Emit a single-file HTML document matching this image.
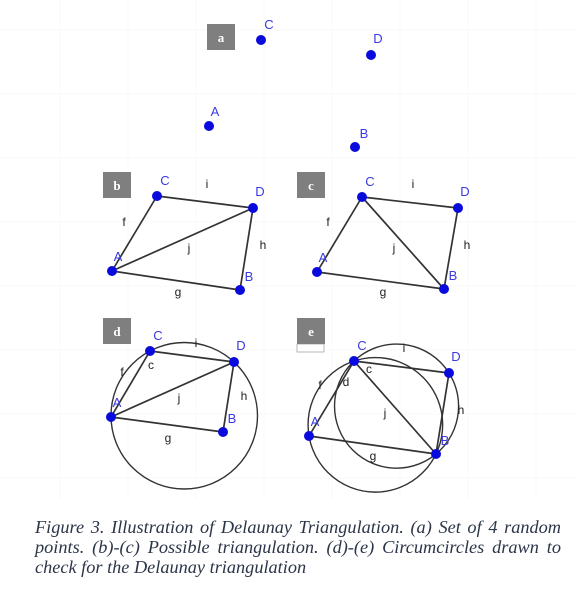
<!DOCTYPE html>
<html><head><meta charset="utf-8">
<style>
html,body{margin:0;padding:0;background:#fff;}
body{width:575px;height:594px;position:relative;overflow:hidden;}
svg{position:absolute;left:0;top:0;}
.cap{position:absolute;left:35px;width:526px;font-family:"Liberation Serif",serif;font-style:italic;font-size:18.3px;color:#2c3648;line-height:20px;text-align:justify;text-align-last:justify;white-space:nowrap;}
</style></head>
<body>
<svg id="fig" width="575" height="594"></svg>
<div class="cap" style="top:517px">Figure 3. Illustration of Delaunay Triangulation. (a) Set of 4 random</div>
<div class="cap" style="top:537px">points. (b)-(c) Possible triangulation. (d)-(e) Circumcircles drawn to</div>
<div class="cap" style="top:557px;text-align-last:left">check for the Delaunay triangulation</div>
<script>
// Point coordinates for each panel (A, B, C, D)
const panelA = {A:[209,126],B:[355,147],C:[261,40],D:[371,55]};
const panelB = {A:[112,271],B:[240,290],C:[157,196],D:[253,208]};
const panelC = {A:[317,272],B:[444,289],C:[362,197],D:[458,208]};
const panelD = {A:[111,417],B:[223,432],C:[150,351],D:[234,362]};
const panelE = {A:[309,436],B:[436,454],C:[354,361],D:[449,373]};
const edgesB = [["A","C"],["C","D"],["D","B"],["B","A"],["A","D"]];
const edgesC = [["A","C"],["C","D"],["D","B"],["B","A"],["C","B"]];
const circlesD = [["A","C","D"]];
const circlesE = [["A","C","B"],["C","D","B"]];

const NS="http://www.w3.org/2000/svg";
const svg=document.getElementById('fig');
function mk(tag,attrs,name,parent){
  const e=document.createElementNS(NS,tag);
  for(const k in attrs)e.setAttribute(k,attrs[k]);
  
  
  (parent||svg).appendChild(e);return e;
}
function txt(x,y,s,col,size,name,bold,serif){
  const t=mk('text',{x:x,y:y,fill:col,'font-size':size,'font-family':serif?'Liberation Serif, serif':'Liberation Sans, sans-serif','font-weight':bold?'bold':'normal','text-anchor':'middle'},name);
  t.textContent=s;return t;
}
function circum(a,b,c){
  const d=2*(a[0]*(b[1]-c[1])+b[0]*(c[1]-a[1])+c[0]*(a[1]-b[1]));
  const a2=a[0]*a[0]+a[1]*a[1],b2=b[0]*b[0]+b[1]*b[1],c2=c[0]*c[0]+c[1]*c[1];
  const ux=(a2*(b[1]-c[1])+b2*(c[1]-a[1])+c2*(a[1]-b[1]))/d;
  const uy=(a2*(c[0]-b[0])+b2*(a[0]-c[0])+c2*(b[0]-a[0]))/d;
  return [ux,uy,Math.hypot(a[0]-ux,a[1]-uy)];
}
function box(x,y,l,id){
  mk('rect',{x:x,y:y,width:28,height:26,fill:'#7f7f7f'},'panel-'+id+'-label-box');
  txt(x+14,y+18,l,'#fff',13,'panel-'+id+'-label',true,true);
}
function panel(P,edges,circles,id,labels){
  circles.forEach((c,i)=>{
    const [cx,cy,r]=circum(P[c[0]],P[c[1]],P[c[2]]);
    mk('circle',{cx:cx,cy:cy,r:r,fill:'none',stroke:'#333',"stroke-width":1.4},'panel-'+id+'-circumcircle');
  });
  edges.forEach(e=>{
    mk('line',{x1:P[e[0]][0],y1:P[e[0]][1],x2:P[e[1]][0],y2:P[e[1]][1],stroke:'#333',"stroke-width":1.7},'panel-'+id+'-edge-'+e[0]+e[1]);
  });
  for(const k in P){
    mk('circle',{cx:P[k][0],cy:P[k][1],r:5,fill:'#0a0adc'},'panel-'+id+'-point-'+k);
  }
  const off={A:[6,-10],B:[9,-9],C:[8,-11],D:[7,-12]};
  for(const k in P){
    txt(P[k][0]+off[k][0],P[k][1]+off[k][1],k,'#3a3ae0',13,'panel-'+id+'-point-label-'+k);
  }
  (labels||[]).forEach(l=>txt(l[1],l[2],l[0],'#222',12,'panel-'+id+'-edge-label-'+l[0]));
}
// faint grid
for(let x=60;x<560;x+=68) mk('line',{x1:x,y1:0,x2:x,y2:500,stroke:'#f8f8f8','stroke-width':1},'grid-line');
for(let y=30;y<500;y+=64) mk('line',{x1:0,y1:y,x2:575,y2:y,stroke:'#f8f8f8','stroke-width':1},'grid-line');

box(207,24,'a','a');
panel(panelA,[],[],'a');
box(103,172,'b','b');
panel(panelB,edgesB,[],'b',[['f',124,226],['i',207,188],['j',189,252],['h',263,249],['g',178,296]]);
box(297,172,'c','c');
panel(panelC,edgesC,[],'c',[['f',328,226],['i',413,188],['j',394,252],['h',467,249],['g',383,296]]);
box(103,318,'d','d');
panel(panelD,edgesB,circlesD,'d',[['c',151,369],['f',122,376],['i',196,347],['j',179,402],['h',244,400],['g',168,442]]);
mk('rect',{x:297,y:344,width:27,height:8,fill:'#fff',stroke:'#999','stroke-width':0.7},'panel-e-sub-box');
box(297,318,'e','e');
panel(panelE,edgesC,circlesE,'e',[['c',369,373],['d',346,386],['f',320,389],['i',404,352],['j',385,417],['h',461,414],['g',373,460]]);
</script>
</body></html>
